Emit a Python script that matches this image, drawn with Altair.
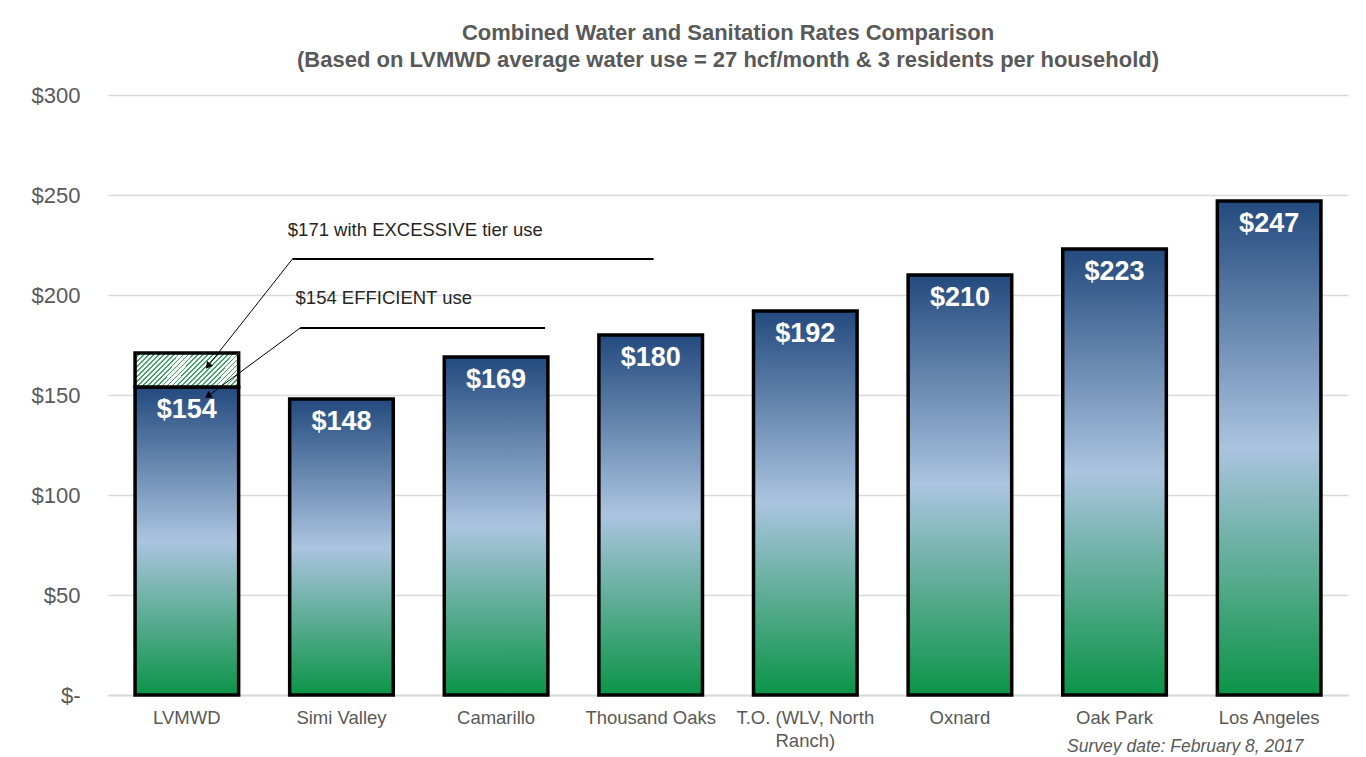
import altair as alt
import pandas as pd

# ---- data ----
cities = ["LVMWD", "Simi Valley", "Camarillo", "Thousand Oaks",
          "T.O. (WLV, North Ranch)", "Oxnard", "Oak Park", "Los Angeles"]
rates = [154, 148, 169, 180, 192, 210, 223, 247]
rate_labels = ["$154", "$148", "$169", "$180", "$192", "$210", "$223", "$247"]

excess_city = ["LVMWD"]
excess_low = [154]
excess_high = [171]

y_ticks = [0, 50, 100, 150, 200, 250, 300]

# annotation geometry in (category-units, dollars)
ann_texts = ["$171 with EXCESSIVE tier use", "$154 EFFICIENT use"]
ann_text_x = [1.16, 1.21]
ann_text_y = [232.5, 198.5]
shelf_x = [1.19, 1.24]
shelf_x2 = [3.52, 2.82]
shelf_y = [218, 183.5]
tip_x = [0.645, 0.645]
tip_y = [164.5, 149.5]
tip_angle = [218, 234]

df = pd.DataFrame({"city": cities, "rate": rates, "label": rate_labels})
df_ex = pd.DataFrame({"city": excess_city, "lo": excess_low, "hi": excess_high})
df_txt = pd.DataFrame({"t": ann_texts, "x": ann_text_x, "y": ann_text_y})
df_shelf = pd.DataFrame({"x": shelf_x, "x2": shelf_x2, "y": shelf_y})
df_lead = pd.DataFrame({"x": shelf_x, "y": shelf_y, "x2": tip_x, "y2": tip_y})
df_tip = pd.DataFrame({"x": tip_x, "y": tip_y, "a": tip_angle})

W, H = 1240, 600
GRAY = "#595959"
FONT = "Liberation Sans"

xband = alt.X("city:N", sort=cities,
              scale=alt.Scale(domain=cities, paddingInner=0.33, paddingOuter=0.175),
              axis=alt.Axis(title="Survey date: February 8, 2017",
                            titleFontStyle="italic", titleFontWeight="normal",
                            titleFontSize=17.5, titleColor=GRAY, titleFont=FONT,
                            titleX=1195, titleY=51, titleAlign="right",
                            titleBaseline="middle",
                            labelAngle=0, labelFontSize=18.5, labelColor=GRAY,
                            labelFont=FONT, labelPadding=13, labelLimit=240,
                            labelLineHeight=23,
                            labelExpr="datum.label == 'T.O. (WLV, North Ranch)' ? ['T.O. (WLV, North', 'Ranch)'] : datum.label",
                            ticks=False, domainColor="#d9d9d9", domainWidth=2))

yscale = alt.Scale(domain=[0, 300], nice=False)
yaxis = alt.Axis(title=None, values=y_ticks, labelFontSize=22, labelColor=GRAY,
                 labelFont=FONT, labelPadding=28, ticks=False, domain=False,
                 gridColor="#d9d9d9", gridWidth=1.5,
                 labelExpr="datum.value == 0 ? '$-' : '$' + datum.value")

bar_grad = alt.Gradient(
    gradient="linear", x1=0, y1=0, x2=0, y2=1,
    stops=[alt.GradientStop(offset=0, color="#234a7e"),
           alt.GradientStop(offset=0.5, color="#abc4e0"),
           alt.GradientStop(offset=1, color="#0b9447")])

bars = alt.Chart(df).mark_bar(color=bar_grad, stroke="black", strokeWidth=3.5).encode(
    x=xband, y=alt.Y("rate:Q", scale=yscale, axis=yaxis))

# diagonal hatch via hard-stop gradient
n_stripes = 28
stops = []
for i in range(n_stripes):
    a = i / n_stripes
    b = (i + 0.35) / n_stripes
    c = (i + 1) / n_stripes
    stops += [alt.GradientStop(offset=a, color="#3aa862"),
              alt.GradientStop(offset=b, color="#3aa862"),
              alt.GradientStop(offset=b, color="#ffffff"),
              alt.GradientStop(offset=c, color="#ffffff")]
hatch_grad = alt.Gradient(gradient="linear", x1=0, y1=0, x2=1.2, y2=0.39, stops=stops)

hatch = alt.Chart(df_ex).mark_bar(color=hatch_grad, stroke="black", strokeWidth=3.5).encode(
    x=alt.X("city:N", sort=cities, scale=alt.Scale(domain=cities)),
    y=alt.Y("lo:Q", scale=yscale), y2="hi:Q")

labels = alt.Chart(df).mark_text(color="white", fontSize=27, fontWeight="bold",
                                 font=FONT, baseline="top", dy=10).encode(
    x=alt.X("city:N", sort=cities, scale=alt.Scale(domain=cities)),
    y=alt.Y("rate:Q", scale=yscale), text="label:N")

main = alt.layer(bars, hatch, labels)

xq = alt.Scale(domain=[0, 8], nice=False, zero=False)

ann_text = alt.Chart(df_txt).mark_text(align="left", baseline="middle", fontSize=18.5,
                                       font=FONT, color="#262626").encode(
    x=alt.X("x:Q", scale=xq, axis=None), y=alt.Y("y:Q", scale=yscale), text="t:N")

shelves = alt.Chart(df_shelf).mark_rule(color="black", strokeWidth=2).encode(
    x=alt.X("x:Q", scale=xq, axis=None), x2="x2:Q", y=alt.Y("y:Q", scale=yscale))

leaders = alt.Chart(df_lead).mark_rule(color="black", strokeWidth=1).encode(
    x=alt.X("x:Q", scale=xq, axis=None), x2="x2:Q",
    y=alt.Y("y:Q", scale=yscale), y2="y2:Q")

tips = alt.Chart(df_tip).mark_point(shape="triangle-up", filled=True, color="black",
                                    size=60, opacity=1).encode(
    x=alt.X("x:Q", scale=xq, axis=None), y=alt.Y("y:Q", scale=yscale),
    angle=alt.Angle("a:Q", scale=None))

annot = alt.layer(shelves, leaders, tips, ann_text)

chart = alt.layer(main, annot).resolve_scale(x="independent").properties(
    width=W, height=H,
    title=alt.TitleParams(
        text=["Combined Water and Sanitation Rates Comparison",
              "(Based on LVMWD average water use = 27 hcf/month & 3 residents per household)"],
        fontSize=22, fontWeight="bold", color=GRAY, font=FONT, lineHeight=27,
        anchor="middle", offset=12),
    padding={"left": 23, "top": 14, "right": 8, "bottom": 0},
    background="white",
).configure_view(stroke=None)

chart.save("out.html", embed_options={"renderer": "svg", "actions": False})
